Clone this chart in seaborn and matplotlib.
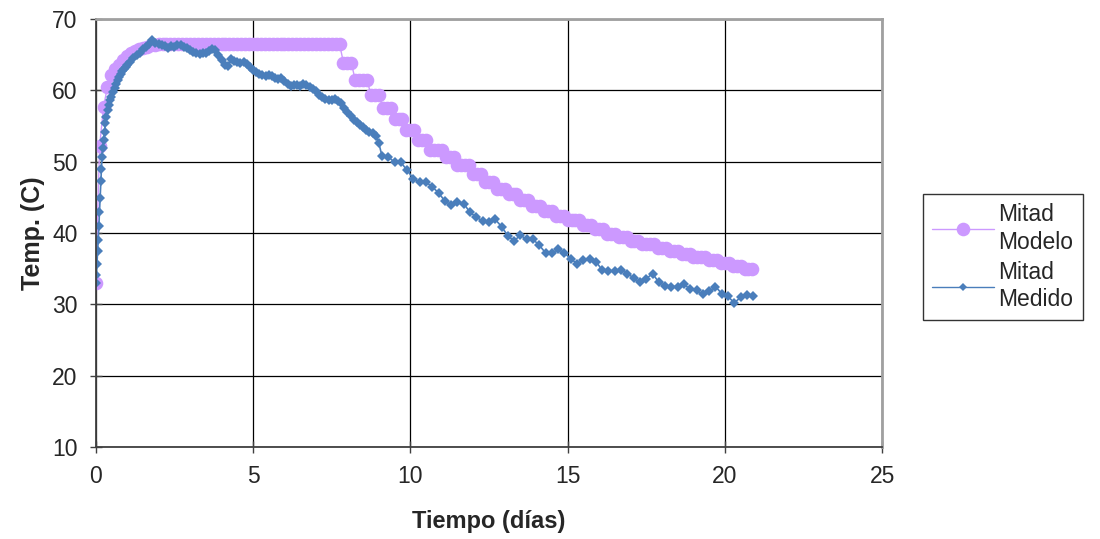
import numpy as np
import matplotlib
matplotlib.use('Agg')
import matplotlib.pyplot as plt
import seaborn as sns
from matplotlib.lines import Line2D

# model: one value every 3 hours (0.125 day), rows = one day each
model_t = np.arange(0, 21, 0.125)
model_temp = [
    33.0, 52.2, 57.7, 60.5, 62.1, 63.0, 63.6, 64.2,
    64.8, 65.2, 65.5, 65.8, 66.0, 66.1, 66.3, 66.4,
    66.5, 66.5, 66.5, 66.5, 66.5, 66.5, 66.5, 66.5,
    66.5, 66.5, 66.5, 66.5, 66.5, 66.5, 66.5, 66.5,
    66.5, 66.5, 66.5, 66.5, 66.5, 66.5, 66.5, 66.5,
    66.5, 66.5, 66.5, 66.5, 66.5, 66.5, 66.5, 66.5,
    66.5, 66.5, 66.5, 66.5, 66.5, 66.5, 66.5, 66.5,
    66.5, 66.5, 66.5, 66.5, 66.5, 66.5, 66.5, 63.9,
    63.9, 63.9, 61.4, 61.4, 61.4, 61.4, 59.4, 59.4,
    59.4, 57.5, 57.5, 57.5, 56.0, 56.0, 56.0, 54.4,
    54.4, 54.4, 53.1, 53.1, 53.1, 51.7, 51.7, 51.7,
    51.7, 50.6, 50.6, 50.6, 49.5, 49.5, 49.5, 49.5,
    48.3, 48.3, 48.3, 47.2, 47.2, 47.2, 46.2, 46.2,
    46.2, 45.4, 45.4, 45.4, 44.6, 44.6, 44.6, 43.8,
    43.8, 43.8, 43.1, 43.1, 43.1, 42.4, 42.4, 42.4,
    41.8, 41.8, 41.8, 41.8, 41.1, 41.1, 41.1, 40.5,
    40.5, 40.5, 39.9, 39.9, 39.9, 39.4, 39.4, 39.4,
    38.9, 38.9, 38.9, 38.4, 38.4, 38.4, 38.4, 37.9,
    37.9, 37.9, 37.5, 37.5, 37.5, 37.1, 37.1, 37.1,
    36.6, 36.6, 36.6, 36.6, 36.2, 36.2, 36.2, 35.8,
    35.8, 35.8, 35.4, 35.4, 35.4, 35.0, 35.0, 34.9,
]

# measured: dense during heating, then every 0.2 day
rise_t = [0, 0.02, 0.04, 0.06, 0.08, 0.1, 0.12, 0.14, 0.16, 0.18, 0.2, 0.22,
          0.25, 0.28, 0.31, 0.34, 0.38, 0.42, 0.46, 0.5, 0.55, 0.6, 0.65, 0.7,
          0.75, 0.8, 0.85, 0.9, 0.95, 1.0]
rise_temp = [33.0, 34.1, 35.6, 37.5, 39.0, 41.0, 42.9, 44.9, 47.3, 49.0, 50.7, 51.9,
             53.0, 54.2, 55.4, 56.3, 57.3, 58.0, 58.6, 59.1, 59.7, 60.3, 60.9, 61.4,
             61.9, 62.3, 62.7, 63.0, 63.3, 63.6]
dense_t = np.round(np.arange(1.1, 9.05, 0.1), 2)
dense_temp = [
    64.0, 64.5, 65.0, 65.3, 65.8, 66.1, 66.5, 67.1, 66.7,
    66.5, 66.3, 66.2, 66.0, 66.2, 66.1, 66.3, 66.4, 66.1, 65.9,
    65.6, 65.4, 65.3, 65.1, 65.3, 65.2, 65.5, 65.8, 65.6, 64.9,
    64.2, 63.5, 63.4, 64.4, 64.1, 64.0, 63.9, 64.0, 63.7, 63.3,
    62.9, 62.6, 62.3, 62.2, 62.0, 62.1, 62.0, 61.8, 61.6, 61.7,
    61.3, 60.9, 60.6, 60.8, 60.7, 60.6, 60.9, 60.8, 60.5, 60.2,
    59.9, 59.4, 59.0, 58.8, 58.7, 58.6, 58.8, 58.5, 58.2, 57.5,
    56.9, 56.4, 55.8, 55.5, 55.1, 54.8, 54.5, 54.2, 54.0, 53.6,
    52.6,
]
sparse_t = np.round(np.arange(9.1, 20.95, 0.2), 2)
sparse_temp = [
    50.8, 50.7, 49.9, 49.9, 48.8, 47.6, 47.1, 47.1, 46.5, 45.6,
    44.5, 43.9, 44.4, 44.1, 42.9, 42.2, 41.7, 41.6, 41.9, 40.9,
    39.6, 38.9, 39.7, 39.1, 39.1, 38.3, 37.2, 37.2, 37.7, 37.2,
    36.4, 35.7, 36.2, 36.4, 36.0, 34.8, 34.7, 34.7, 34.8, 34.3,
    33.7, 33.1, 33.6, 34.3, 33.1, 32.6, 32.5, 32.5, 32.8, 32.1,
    32.0, 31.4, 31.8, 32.5, 31.5, 31.1, 30.2, 31.0, 31.3, 31.2,
]
meas_t = np.concatenate([rise_t, dense_t, sparse_t])
meas_temp = np.concatenate([rise_temp, dense_temp, sparse_temp])

model_color = '#CC99FF'
meas_color = '#4A7EBB'

sns.set_style('white')
plt.rcParams['font.family'] = ['Liberation Sans', 'DejaVu Sans']

fig = plt.figure(figsize=(11, 5.39), dpi=100)
ax = fig.add_axes([0.087, 0.1707, 0.715, 0.794])

sns.lineplot(x=model_t, y=model_temp, ax=ax, color=model_color, lw=1,
             marker='o', markersize=9.8, markeredgewidth=0,
             markeredgecolor=model_color, sort=False, estimator=None)
sns.lineplot(x=meas_t, y=meas_temp, ax=ax, color=meas_color, lw=1.2,
             marker='D', markersize=5.6, markeredgewidth=0,
             markeredgecolor=meas_color, sort=False, estimator=None)

ax.set_xlim(0, 25)
ax.set_ylim(10, 70)
ax.set_xticks([0, 5, 10, 15, 20, 25])
ax.set_yticks([10, 20, 30, 40, 50, 60, 70])
ax.grid(True, color='black', lw=0.9)
ax.set_axisbelow(True)
ax.tick_params(direction='inout', length=8, width=1, labelsize=16.5, pad=9,
               color='#404040', left=True, bottom=True)

for side in ['left', 'bottom']:
    ax.spines[side].set_color('#404040')
    ax.spines[side].set_linewidth(1.3)
for side in ['top', 'right']:
    ax.spines[side].set_color('#A0A0A0')
    ax.spines[side].set_linewidth(2)

ax.set_xlabel('Tiempo (días)', fontsize=17, fontweight='bold', labelpad=16)
ax.set_ylabel('Temp. (C)', fontsize=18, fontweight='bold', labelpad=5)

handles = [
    Line2D([], [], color=model_color, lw=1, marker='o', markersize=9.8,
           markeredgewidth=0),
    Line2D([], [], color=meas_color, lw=1, marker='D', markersize=4.4,
           markeredgewidth=0),
]
leg = fig.legend(handles, ['Mitad\nModelo', 'Mitad\nMedido'],
                 loc='upper left', bbox_to_anchor=(0.839, 0.64),
                 fontsize=16.5, frameon=True, fancybox=False,
                 handlelength=2.7, handletextpad=0.2, labelspacing=0.3,
                 borderpad=0.4, borderaxespad=0)
leg.get_frame().set_edgecolor('black')
leg.get_frame().set_linewidth(1)
for t in leg.get_texts():
    t.set_linespacing(1.25)

fig.savefig('out.png', dpi=100)
